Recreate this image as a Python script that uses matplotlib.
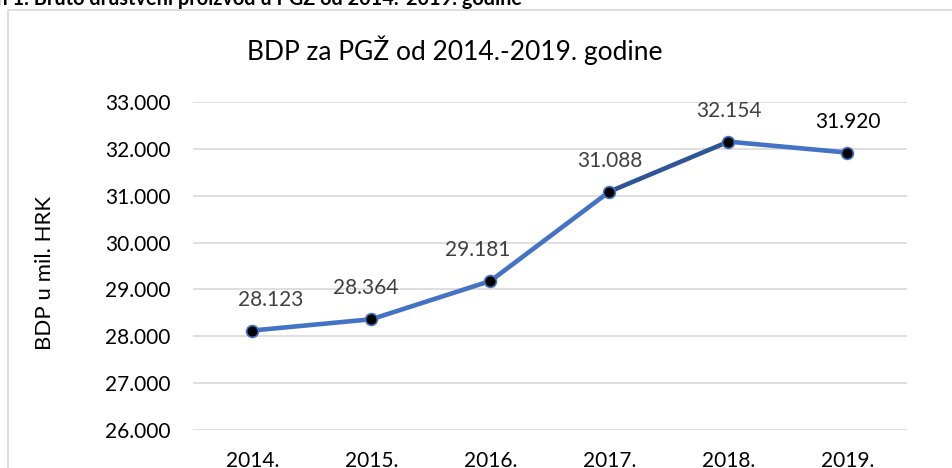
import numpy as np
import matplotlib.pyplot as plt
from matplotlib.patches import Rectangle
from matplotlib.ticker import FuncFormatter

### Daten
godine = ['2014.', '2015.', '2016.', '2017.', '2018.', '2019.']
bdp = [28123, 28364, 29181, 31088, 32154, 31920]
y_ticks = [26000, 27000, 28000, 29000, 30000, 31000, 32000, 33000]

# horizontale Verschiebung der Beschriftungen (Punkte), wie im Original
label_dx = [13, -4, -9, 0, 0, 0]

plt.rcParams['font.family'] = ['Lato', 'DejaVu Sans']

W, H = 953, 468
fig = plt.figure(figsize=(W / 100, H / 100), dpi=100)

# Rahmen des Diagramms (nur links und oben sichtbar)
fig.patches.append(Rectangle((8 / W, -0.1), 1.1, 1 - 10 / H + 0.1, transform=fig.transFigure,
                             fill=False, edgecolor='#d9d9d9', linewidth=1.2))

# abgeschnittene Überschrift oben
fig.text(522 / W, 1 - 5 / H, 'Grafikon 1. Bruto društveni proizvod u PGŽ od 2014.-2019. godine',
         ha='right', va='baseline', fontsize=14.3, fontweight='bold', color='black')

ax = fig.add_axes([193 / W, 1 - 430 / H, (907 - 193) / W, (430 - 102) / H])
x = np.arange(len(godine))

# Linie, Segment 2017-2018 dunkler
for i in range(len(x) - 1):
    c = '#2f5597' if i == 3 else '#4472c4'
    ax.plot(x[i:i + 2], bdp[i:i + 2], color=c, linewidth=3.3, solid_capstyle='round', zorder=3)
ax.plot(x, bdp, linestyle='none', marker='o', markersize=8.5, markerfacecolor='black',
        markeredgecolor='#4472c4', markeredgewidth=1.2, zorder=4)

fmt = lambda v: f'{v:,.0f}'.replace(',', '.')
for i, v in enumerate(bdp):
    ax.annotate(fmt(v), (x[i], v), xytext=(label_dx[i], 18), textcoords='offset points', ha='center',
                va='baseline', fontsize=15, color='black' if i == 5 else '#404040')

ax.set_xlim(-0.5, len(godine) - 0.5)
ax.set_ylim(26000, 33000)
ax.set_xticks(x)
ax.set_xticklabels(godine)
ax.set_yticks(y_ticks)
ax.yaxis.set_major_formatter(FuncFormatter(lambda v, p: fmt(v)))
ax.grid(axis='y', color='#d9d9d9', linewidth=1.2)
ax.set_axisbelow(True)
for s in ax.spines.values():
    s.set_visible(False)
ax.tick_params(axis='both', length=0, labelsize=15, colors='black')
ax.tick_params(axis='y', pad=16)
ax.tick_params(axis='x', pad=15)

ax.set_ylabel('BDP u mil. HRK', fontsize=16)
ax.yaxis.set_label_coords(-0.193, 0.48)

fig.text(455 / W, 1 - 60 / H, 'BDP za PGŽ od 2014.-2019. godine', ha='center', va='baseline',
         fontsize=19)

fig.savefig('out.png', dpi=100)
